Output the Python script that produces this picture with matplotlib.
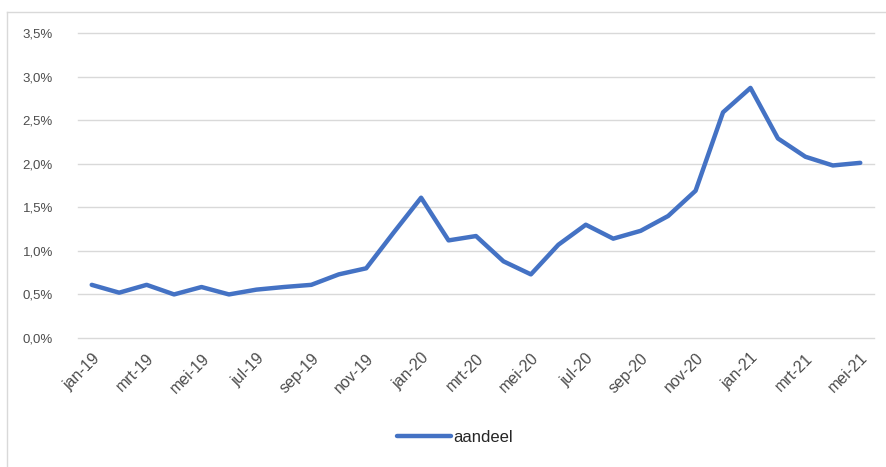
import matplotlib
matplotlib.use("Agg")
import matplotlib.pyplot as plt
from matplotlib.lines import Line2D
from matplotlib.ticker import FuncFormatter

# monthly share, jan-19 .. mei-21
maanden = ['jan', 'feb', 'mrt', 'apr', 'mei', 'jun', 'jul', 'aug', 'sep', 'okt', 'nov', 'dec']
jaren = ['19', '20', '21']
aandeel = [0.61, 0.52, 0.61, 0.50, 0.585, 0.50, 0.555, 0.585, 0.61, 0.73,
           0.80, 1.21, 1.61, 1.12, 1.17, 0.88, 0.73, 1.07, 1.30, 1.14,
           1.23, 1.40, 1.69, 2.59, 2.87, 2.29, 2.08, 1.98, 2.01]
aandeel = [v / 100 for v in aandeel]

labels = []
for j in jaren:
    for m in maanden:
        labels.append('{}-{}'.format(m, j))
labels = labels[:len(aandeel)]
x = list(range(len(aandeel)))

plt.rcParams['font.family'] = ['Liberation Sans', 'DejaVu Sans']
grey = '#4d4d4d'

fig = plt.figure(figsize=(8.87, 4.67), dpi=100)
ax = fig.add_axes([78/887, 1 - 338/467, 796/887, 305/467])

ax.plot(x, aandeel, color='#4472C4', lw=3.2, solid_joinstyle='round',
        solid_capstyle='round', label='aandeel')

ax.set_xlim(-0.5, len(aandeel) - 0.5)
ax.set_ylim(0, 0.035)
ax.set_yticks([i * 0.005 for i in range(8)])
ax.yaxis.set_major_formatter(FuncFormatter(lambda v, p: '{:.1f}%'.format(v * 100).replace('.', ',')))
ax.grid(axis='y', color='#d9d9d9', lw=1.0, clip_on=False)
ax.set_axisbelow(True)
for s in ax.spines.values():
    s.set_visible(False)

ax.set_xticks(x[::2])
ax.set_xticklabels(labels[::2], rotation=45, ha='right', rotation_mode='anchor')
ax.tick_params(axis='both', length=0, labelcolor=grey)
ax.tick_params(axis='x', pad=9, labelsize=11.5)
ax.tick_params(axis='y', pad=18, labelsize=9.5)

fig.legend(loc='center', bbox_to_anchor=(455/887, 1 - 437/467), frameon=False,
           handlelength=3.2, handletextpad=0.15, fontsize=12, labelcolor='#262626')

# chart area border
fig.add_artist(Line2D([7/887, 1], [1 - 12/467, 1 - 12/467], transform=fig.transFigure,
                      color='#d9d9d9', lw=1.0))
fig.add_artist(Line2D([7/887, 7/887], [0, 1 - 12/467], transform=fig.transFigure,
                      color='#d9d9d9', lw=1.0))

fig.savefig('out.png', dpi=100)
